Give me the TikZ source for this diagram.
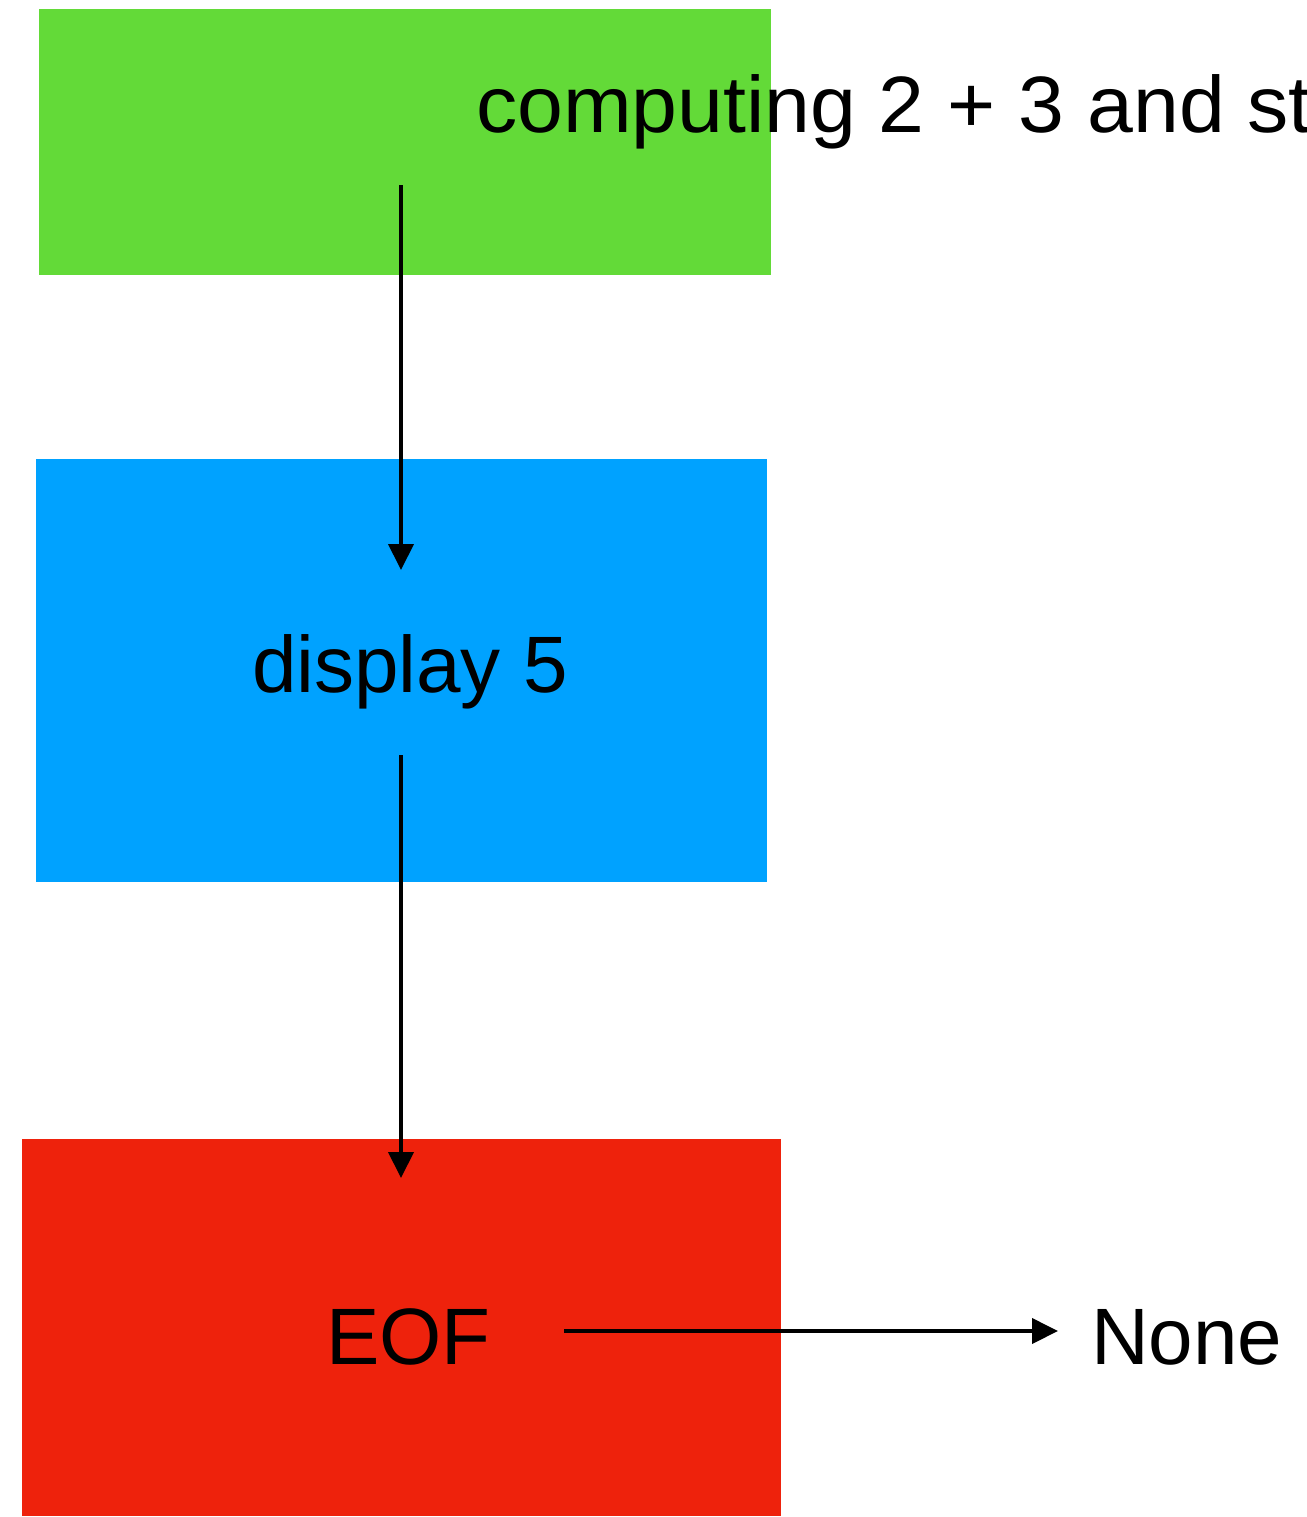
\documentclass[tikz,border=0pt]{standalone}
\usepackage{fontspec}
\setmainfont{Liberation Sans}
\newfontfamily\widesans[FakeStretch=1.03]{Liberation Sans}
\usetikzlibrary{arrows.meta}
\definecolor{stepgreen}{RGB}{99,218,56}
\definecolor{stepblue}{RGB}{0,162,255}
\definecolor{stepred}{RGB}{238,34,12}
\tikzset{
  block/.style={inner sep=0pt, outer sep=0pt, draw=none, fill=#1},
  label text/.style={inner sep=0pt, outer sep=0pt, anchor=base west,
    font=\fontsize{40}{48}\selectfont},
  flow/.style={line width=2pt, -{Triangle[length=13pt,width=12.5pt]}},
}
\begin{document}
\begin{tikzpicture}[x=0.5pt, y=-0.5pt]
  \useasboundingbox (0,0) rectangle (1307,1517);
  \clip (0,0) rectangle (1307,1517);
  % coloured blocks
  \node[block=stepgreen, minimum width=366pt, minimum height=133pt] (compute) at (405,142) {};
  \node[block=stepblue, minimum width=365.5pt, minimum height=211.5pt] (show) at (401.5,670.5) {};
  \node[block=stepred, minimum width=379.5pt, minimum height=188.5pt] (eof) at (401.5,1327.5) {};
  % texts
  \node[label text, font=\widesans\fontsize{40}{48}\selectfont] (computetxt) at (476,132) {computing 2 + 3 and st};
  \node[label text] (showtxt) at (252,692) {display 5};
  \node[label text] (eoftxt) at (326,1364) {EOF};
  \node[label text] (nonetxt) at (1091,1364) {None};
  % connector ends
  \coordinate (c1a) at (401,185);
  \coordinate (c1b) at (401,570);
  \coordinate (c2a) at (401,755);
  \coordinate (c2b) at (401,1178);
  \coordinate (c3a) at (564,1331);
  \coordinate (c3b) at (1058,1331);
  \draw[flow] (c1a) -- (c1b);
  \draw[flow] (c2a) -- (c2b);
  \draw[flow] (c3a) -- (c3b);
\end{tikzpicture}
\end{document}
